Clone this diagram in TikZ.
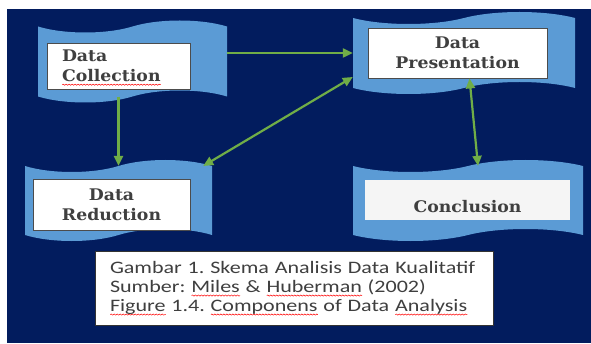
\documentclass[tikz,border=0pt]{standalone}
\usepackage{fontspec}
\setmainfont{DejaVu Serif}
\newfontfamily\boxfont[FakeStretch=1.08]{DejaVu Serif}
\newfontfamily\capfont[FakeStretch=1.26]{Carlito}
\usetikzlibrary{shapes.symbols, arrows.meta, decorations.pathmorphing}

\definecolor{navybg}{HTML}{021C5E}
\definecolor{tapeblue}{HTML}{5B9BD5}
\definecolor{flowgreen}{HTML}{70AD47}
\definecolor{textgray}{HTML}{3F3F3F}

\newlength{\spellwd}
\newcommand{\spell}[1]{\leavevmode\settowidth{\spellwd}{#1}\smash{\rlap{\tikz[baseline=0pt]\draw[red, line width=0.5pt, decorate, decoration={snake, amplitude=0.6pt, segment length=3pt}] (0pt,-3pt) -- (\spellwd,-3pt);}}#1}

\tikzset{
	ribbon/.style={tape, fill=tapeblue, draw=none, inner sep=0pt, tape bend height=12pt},
	stagebox/.style={draw=black!70, line width=0.9pt, fill=white, text=textgray, inner sep=0pt, align=center, font=\boxfont\bfseries\fontsize{16}{20}\selectfont},
	flow/.style={draw=flowgreen, line width=2.2pt},
}

\begin{document}
\frenchspacing
\begin{tikzpicture}[x=1pt, y=1pt, >={Triangle[length=10pt, width=9pt]}]
	\fill[white] (0,0) rectangle (591,343);
	\useasboundingbox (0,0) rectangle (591,343);
	\fill[navybg] (7,0) rectangle (591,334);

	% the four ribbons
	\node[ribbon, minimum width=189pt, minimum height=82pt] (colltape) at (132.5,281.5) {};
	\node[ribbon, minimum width=222pt, minimum height=82pt] (prestape) at (464,290) {};
	\node[ribbon, minimum width=187pt, minimum height=81pt] (redtape) at (118.5,142.5) {};
	\node[ribbon, minimum width=230pt, minimum height=81pt] (conctape) at (468,142.5) {};

	% white boxes on them
	\node[stagebox, minimum height=46pt, text width=113pt, inner xsep=15pt, align=left] (colllabel) at (118.5,277) {Data\\\spell{Collection}};
	\node[stagebox, minimum width=179pt, minimum height=50pt] (preslabel) at (457.5,290) {Data\\Presentation};
	\node[stagebox, minimum width=157pt, minimum height=51pt] (redlabel) at (111.5,138.5) {Data\\Reduction};
	\node[stagebox, draw=none, fill=black!4, minimum width=205pt, minimum height=40pt] (conclabel) at (467.5,143) {\raisebox{-13pt}[0pt][0pt]{Conclusion}};

	\node[draw=black!80, line width=0.8pt, fill=white, text=textgray, minimum width=398pt, minimum height=74pt, text width=368pt, inner xsep=15pt, align=left, font=\capfont\fontsize{17.5}{19}\selectfont] (caption) at (294,55) {Gambar 1. Skema Analisis Data Kualitatif\\Sumber: \spell{Miles} \& \spell{Huberman} (2002)\\\spell{Figure} 1.4. \spell{Componens} of Data \spell{Analysis}};

	\draw[flow, ->] (colltape.east |- prestape.west) -- (prestape.west);
	\draw[flow, ->] (colllabel.south |- colltape.south) -- (colllabel.south |- redtape.north);
	\draw[flow, <->] ([yshift=-24pt]prestape.west) -- ([xshift=-9pt]redtape.north east);
	\draw[flow, <->] ([xshift=12pt]preslabel.south) -- ([xshift=10pt]conctape.north);
\end{tikzpicture}
\end{document}
